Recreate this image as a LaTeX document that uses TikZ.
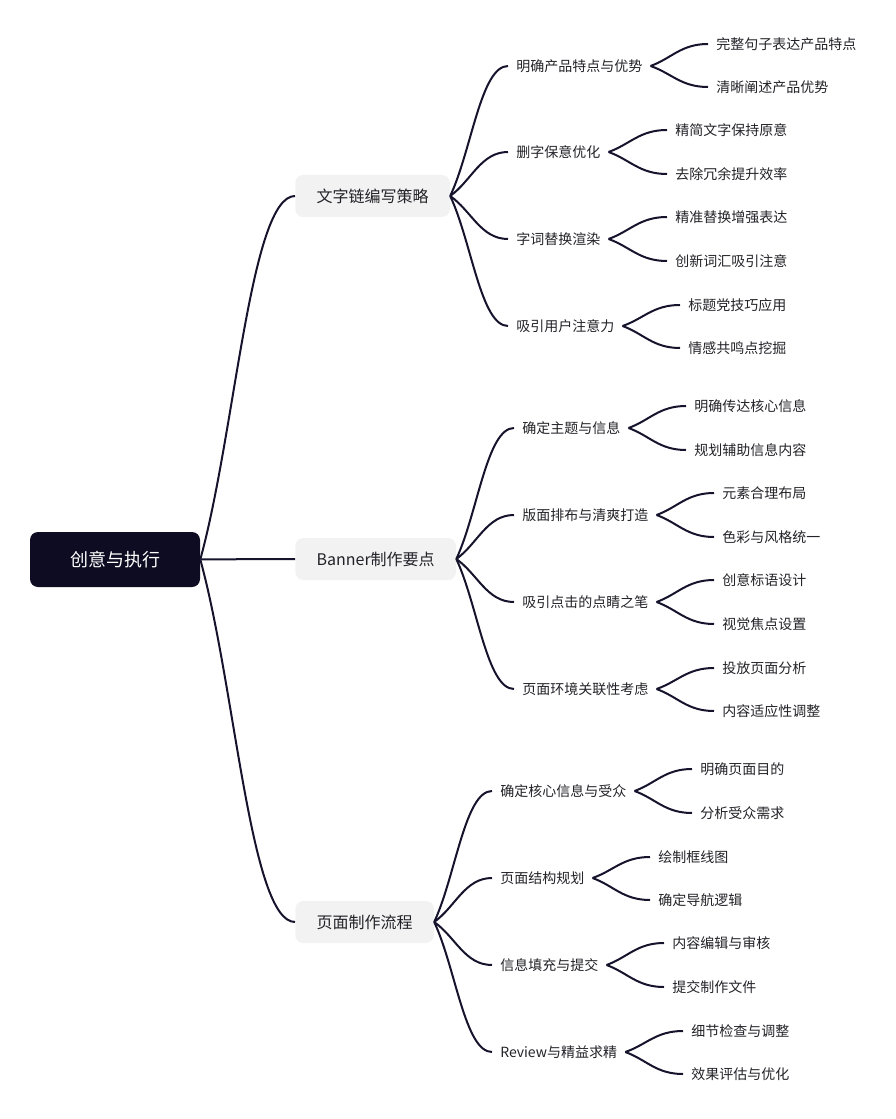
\documentclass[tikz,border=0pt]{standalone}
\usepackage{fontspec}
\setmainfont{Noto Sans CJK SC}
\usetikzlibrary{calc}
\definecolor{rootfill}{RGB}{14,12,34}
\definecolor{edgecol}{RGB}{22,20,44}
\definecolor{boxfill}{RGB}{242,242,243}
\definecolor{txt}{RGB}{34,34,40}
\begin{document}
\begin{tikzpicture}[x=0.75pt,y=-0.75pt,
 rootnode/.style={fill=rootfill, rounded corners=6pt, text=white, font=\fontsize{13.5}{16}\selectfont, minimum width=127.5pt, minimum height=41.25pt, inner sep=0pt},
 topic/.style={fill=boxfill, rounded corners=6pt, text=txt, font=\fontsize{12}{14}\selectfont, anchor=west, minimum height=31.5pt, inner xsep=16pt},
 sub/.style={text=txt, font=\fontsize{10.5}{12}\selectfont, anchor=west, inner xsep=6pt, inner ysep=2pt},
 branch/.style={to path={let \p1=(\tikztostart), \p2=(\tikztotarget) in .. controls ({\x1+0.37*(\x2-\x1)},{\y1+0.35*(\y2-\y1)}) and ({\x1+0.53*(\x2-\x1)},\y2) .. (\p2) \tikztonodes}},
 link/.style={draw=edgecol, line width=1.5pt}
]
\useasboundingbox (0,0) rectangle (895,1119);

% root and topics
\node[rootnode] (root) at (115,559.5) {创意与执行};
\node[topic] (t1) at (295,196) {文字链编写策略};
\node[topic] (t2) at (295,559) {Banner制作要点};
\node[topic] (t3) at (295,922) {页面制作流程};

% level 2
\node[sub] (a1) at (508,66) {明确产品特点与优势};
\node[sub] (a2) at (508,152) {删字保意优化};
\node[sub] (a3) at (508,239) {字词替换渲染};
\node[sub] (a4) at (508,326) {吸引用户注意力};
\node[sub] (b1) at (514,428) {确定主题与信息};
\node[sub] (b2) at (514,515) {版面排布与清爽打造};
\node[sub] (b3) at (514,602) {吸引点击的点睛之笔};
\node[sub] (b4) at (514,689) {页面环境关联性考虑};
\node[sub] (c1) at (492,791) {确定核心信息与受众};
\node[sub] (c2) at (492,878) {页面结构规划};
\node[sub] (c3) at (492,965) {信息填充与提交};
\node[sub] (c4) at (492,1052) {Review与精益求精};

% level 3
\node[sub] (a11) at (708,44) {完整句子表达产品特点};
\node[sub] (a12) at (708,87) {清晰阐述产品优势};
\node[sub] (a21) at (667,130) {精简文字保持原意};
\node[sub] (a22) at (667,174) {去除冗余提升效率};
\node[sub] (a31) at (667,217) {精准替换增强表达};
\node[sub] (a32) at (667,261) {创新词汇吸引注意};
\node[sub] (a41) at (680,305) {标题党技巧应用};
\node[sub] (a42) at (680,348) {情感共鸣点挖掘};
\node[sub] (b11) at (686,406) {明确传达核心信息};
\node[sub] (b12) at (686,450) {规划辅助信息内容};
\node[sub] (b21) at (714,493) {元素合理布局};
\node[sub] (b22) at (714,537) {色彩与风格统一};
\node[sub] (b31) at (714,580) {创意标语设计};
\node[sub] (b32) at (714,624) {视觉焦点设置};
\node[sub] (b41) at (714,668) {投放页面分析};
\node[sub] (b42) at (714,711) {内容适应性调整};
\node[sub] (c11) at (692,769) {明确页面目的};
\node[sub] (c12) at (692,813) {分析受众需求};
\node[sub] (c21) at (650,857) {绘制框线图};
\node[sub] (c22) at (650,900) {确定导航逻辑};
\node[sub] (c31) at (664,943) {内容编辑与审核};
\node[sub] (c32) at (664,987) {提交制作文件};
\node[sub] (c41) at (683,1031) {细节检查与调整};
\node[sub] (c42) at (683,1074) {效果评估与优化};

% connectors
\foreach \t in {t1,t2,t3} \draw[link] (root.east) to[branch] (\t.west);
\foreach \c in {a1,a2,a3,a4} \draw[link] (t1.east) to[branch] (\c.west);
\foreach \c in {b1,b2,b3,b4} \draw[link] (t2.east) to[branch] (\c.west);
\foreach \c in {c1,c2,c3,c4} \draw[link] (t3.east) to[branch] (\c.west);
\foreach \q in {a1,a2,a3,a4,b1,b2,b3,b4,c1,c2,c3,c4} {
  \draw[link] (\q.east) to[branch] (\q1.west);
  \draw[link] (\q.east) to[branch] (\q2.west);
}
\end{tikzpicture}
\end{document}
